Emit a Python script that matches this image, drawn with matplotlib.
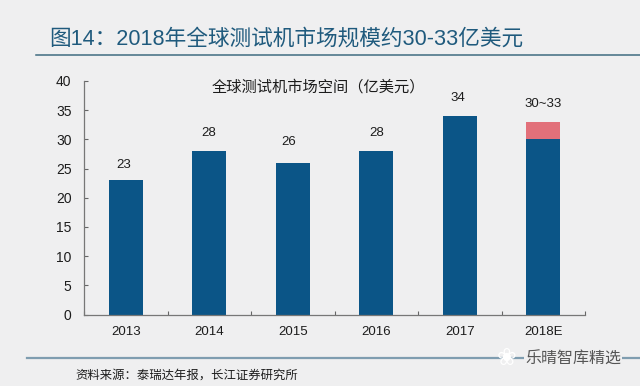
import matplotlib
matplotlib.use("Agg")
import matplotlib.pyplot as plt
from matplotlib.lines import Line2D

plt.rcParams["font.family"] = ["Liberation Sans", "Noto Sans CJK SC", "DejaVu Sans"]

years = ["2013", "2014", "2015", "2016", "2017", "2018E"]
base = [23, 28, 26, 28, 34, 30]
extra = [0, 0, 0, 0, 0, 3]
labels = ["23", "28", "26", "28", "34", "30~33"]
yticks = [0, 5, 10, 15, 20, 25, 30, 35, 40]

W, H = 640, 386
BG = "#efeff0"
BLUE = "#0b5587"
RED = "#e2707a"
INK = "#1c1c1c"
# the labels were placed by hand in the original, nudge each one (pixels)
nudges = [(-2, 15), (-1, 18.5), (-4, 20.5), (0, 18.5), (-2, 18), (0, 17.5)]

fig = plt.figure(figsize=(W / 100, H / 100), dpi=100, facecolor=BG)
ax = fig.add_axes([84 / W, 1 - 314.5 / H, 501 / W, 233.5 / H], facecolor=BG)

x = list(range(len(years)))
ax.bar(x, base, width=0.41, color=BLUE)
ax.bar(x, extra, width=0.41, bottom=base, color=RED)

for i, txt in enumerate(labels):
    dx, dy = nudges[i]
    ax.annotate(txt, (i, base[i] + extra[i]), xytext=(dx * 0.72, dy * 0.72), textcoords="offset points",
                ha="center", va="center", fontsize=9.5, color=INK)

ax.set_xlim(-0.5, 5.5)
ax.set_ylim(0, 40)
ax.set_yticks(yticks)
ax.set_xticks(x)
ax.set_xticklabels(years)
ax.set_xticks([i + 0.5 for i in range(-1, 6)], minor=True)
ax.tick_params(axis="y", direction="in", length=3, width=0.8, color="#666666", labelsize=10, pad=9, labelcolor=INK)
ax.tick_params(axis="x", which="major", length=0, labelsize=9.5, pad=8, labelcolor=INK)
ax.tick_params(axis="x", which="minor", direction="in", length=3, width=0.8, color="#666666")
for side in ("top", "right"):
    ax.spines[side].set_visible(False)
for side in ("left", "bottom"):
    ax.spines[side].set_color("#777777")
    ax.spines[side].set_linewidth(0.9)

# chart title inside the plot
fig.text(318 / W, 1 - 87 / H, "全球测试机市场空间（亿美元）", ha="center", va="center", fontsize=11, color=INK)

# page heading and rules
fig.text(49 / W, 1 - 39 / H, "图14：2018年全球测试机市场规模约30-33亿美元", ha="left", va="center",
         fontsize=15.6, color="#1f5a7d", weight="medium")
fig.add_artist(Line2D([36 / W, 1], [1 - 55 / H, 1 - 55 / H], color="#3f6c80", lw=1.1))
fig.add_artist(Line2D([27 / W, 1], [1 - 358 / H, 1 - 358 / H], color="#7f9db0", lw=1.6))

# source note and watermark
fig.text(75 / W, 1 - 376 / H, "资料来源：泰瑞达年报，长江证券研究所", ha="left", va="center", fontsize=8.9, color=INK)
fig.text(525 / W, 1 - 359 / H, "乐晴智库精选", ha="left", va="center", fontsize=11.5, color="#555555",
         bbox=dict(facecolor=BG, edgecolor="none", pad=1))
fig.text(507 / W, 1 - 358 / H, "❀", ha="center", va="center", fontsize=17, color="white",
         family=["DejaVu Sans"])

fig.savefig("out.png", dpi=100, facecolor=BG)
